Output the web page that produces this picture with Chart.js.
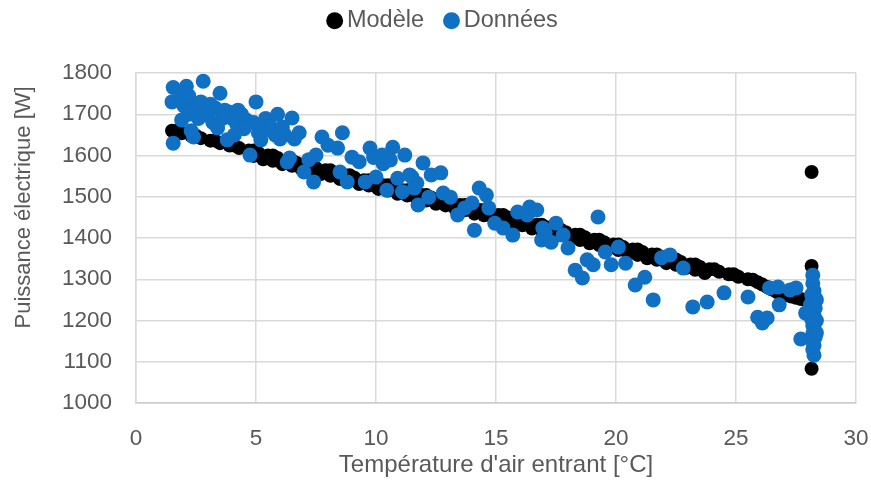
<!DOCTYPE html>
<html>
<head>
<meta charset="utf-8">
<script src="https://cdn.jsdelivr.net/npm/chart.js@4.4.0/dist/chart.umd.min.js"></script>
<style>
  body { margin: 0; background: #fff; }
</style>
</head>
<body>
<canvas id="chart" width="871" height="480"></canvas>
<script>
// Modèle (black band)
const modelX = [1.5, 1.9, 2.3, 2.7, 3.1, 3.5, 3.9, 4.3, 4.7, 5.1, 5.5, 5.9, 6.3, 6.7, 7.1, 7.5, 7.9, 8.3, 8.7, 9.1,
  9.5, 9.9, 10.3, 10.7, 11.1, 11.5, 11.9, 12.3, 12.7, 13.1, 13.5, 13.9, 14.3, 14.7, 15.1, 15.5, 15.9, 16.3, 16.7, 17.1,
  17.5, 17.9, 18.3, 18.7, 19.1, 19.5, 19.9, 20.3, 20.7, 21.1, 21.5, 21.9, 22.3, 22.7, 23.1, 23.5, 23.9, 24.3, 24.7, 25.1,
  25.5, 25.9, 26.3, 26.7, 27.1, 27.5, 27.9, 28.2,
  1.7, 2.5, 3.3, 4.1, 4.9, 5.7, 6.5, 7.3, 8.1, 8.9, 9.7, 10.5, 11.3, 12.1, 12.9, 13.7, 14.5, 15.3, 16.1, 16.9,
  17.7, 18.5, 19.3, 20.1, 20.9, 21.7, 22.5, 23.3, 24.1, 24.9, 25.7,
  5.3, 6.1, 6.9, 7.7, 8.5, 9.3, 10.1, 10.9, 11.7, 12.5, 13.3, 14.1, 14.9, 15.7, 16.5, 17.3, 18.1, 18.9, 19.7, 20.5,
  21.3, 22.1, 22.9, 23.7,
  4.9, 5.7, 6.5, 7.3, 8.1, 8.9, 9.7, 10.5, 11.3, 12.1, 12.9, 13.7, 14.5, 15.3, 16.1, 16.9, 17.7, 18.5, 19.3, 20.1,
  20.9, 21.7, 22.5, 23.3,
  26.1, 26.5, 26.9, 27.3, 27.7, 28.05, 28.3,
  28.15, 28.15, 28.15];
const modelY = [1660, 1654, 1648, 1642, 1636, 1630, 1624, 1618, 1612, 1606, 1600, 1594, 1588, 1582, 1576, 1570, 1564, 1558, 1552, 1546,
  1540, 1534, 1528, 1522, 1516, 1510, 1504, 1498, 1492, 1486, 1480, 1474, 1468, 1462, 1456, 1450, 1444, 1438, 1432, 1426,
  1420, 1414, 1408, 1402, 1396, 1390, 1384, 1378, 1372, 1366, 1360, 1354, 1348, 1342, 1336, 1330, 1324, 1318, 1312, 1306,
  1300, 1293, 1281, 1269, 1261, 1255, 1250, 1246,
  1660, 1648, 1636, 1624, 1612, 1600, 1588, 1576, 1564, 1552, 1540, 1528, 1516, 1504, 1492, 1480, 1468, 1456, 1444, 1432,
  1420, 1408, 1396, 1384, 1372, 1360, 1348, 1336, 1324, 1312, 1299,
  1591, 1579, 1567, 1555, 1543, 1531, 1519, 1507, 1495, 1483, 1471, 1459, 1447, 1435, 1423, 1411, 1399, 1387, 1375, 1363,
  1351, 1339, 1327, 1315,
  1599, 1587, 1575, 1563, 1551, 1539, 1527, 1515, 1503, 1491, 1479, 1467, 1455, 1443, 1431, 1419, 1407, 1395, 1383, 1371,
  1359, 1347, 1335, 1323,
  1287, 1275, 1265, 1258, 1252, 1248, 1244,
  1560, 1332, 1083];

// Données (blue points)
const dataX = [1.55, 2.1, 2.8, 1.5, 1.9, 2.4, 3.5, 1.9, 1.55, 2.4, 3.1, 3.4, 3.8, 3.9, 4.25, 5.0, 4.6, 4.75, 5.2, 5.4,
  5.9, 6.1, 6.3, 2.8, 6.5, 6.8, 6.4, 7.0, 7.4, 7.5, 7.75, 8.6, 8.4, 8.5, 8.8, 9.0, 9.55, 9.75, 10.0, 10.25,
  10.7, 10.6, 10.45, 10.9, 11.2, 11.1, 11.7, 11.96, 12.3, 12.7, 11.5, 11.6, 11.75, 12.2, 12.8, 13.1, 13.4, 13.7, 14.0, 14.3,
  14.6, 14.7, 14.1, 14.95, 15.3, 15.7, 15.9, 16.3, 16.4, 16.7, 16.95, 16.9, 17.05, 17.5, 17.3, 17.8, 18.0, 19.25, 18.3, 18.6,
  18.8, 19.05, 19.55, 20.1, 19.8, 20.4, 20.8, 21.2, 21.55, 21.9, 22.25, 22.8, 23.2, 23.8, 24.5, 25.5, 25.9, 26.1, 26.3, 26.4,
  26.75, 26.8, 27.25, 27.5, 27.7, 27.9,
  2.0, 2.2, 2.5, 2.7, 3.0, 3.3, 3.6, 3.7, 4.0, 4.2, 4.4, 4.5, 4.9, 5.3, 5.6, 5.8, 6.0, 6.2, 6.6, 2.2,
  2.6, 3.2, 4.1, 5.1, 2.3, 7.2, 8.0, 9.3, 9.9, 10.3, 11.4,
  28.2, 28.2, 28.25, 28.15, 28.3, 28.2, 28.1, 28.3, 28.2, 28.25, 28.15, 28.3, 28.2, 28.25, 28.2, 28.3, 28.2, 28.25, 28.2, 28.25,
  28.05, 28.35, 28.35, 28.35];
const dataY = [1765, 1768, 1780, 1730, 1742, 1727, 1751, 1686, 1630, 1645, 1724, 1667, 1638, 1705, 1710, 1730, 1686, 1601, 1638, 1690,
  1700, 1669, 1584, 1698, 1691, 1655, 1594, 1560, 1536, 1601, 1645, 1655, 1618, 1560, 1536, 1596, 1536, 1618, 1548, 1601,
  1620, 1589, 1516, 1545, 1601, 1512, 1533, 1582, 1553, 1558, 1548, 1521, 1480, 1499, 1509, 1499, 1456, 1473, 1485, 1521,
  1504, 1473, 1419, 1436, 1424, 1407, 1463, 1456, 1475, 1468, 1424, 1395, 1412, 1436, 1390, 1407, 1376, 1451, 1322, 1303,
  1347, 1335, 1366, 1378, 1335, 1339, 1286, 1305, 1250, 1352, 1359, 1327, 1233, 1245, 1267, 1257, 1208, 1194, 1206, 1279,
  1281, 1238, 1274, 1279, 1155, 1218,
  1720, 1745, 1710, 1730, 1700, 1715, 1690, 1710, 1690, 1675, 1700, 1665, 1680, 1660, 1670, 1650, 1640, 1650, 1640, 1700,
  1690, 1680, 1650, 1655, 1660, 1590, 1625, 1585, 1595, 1580, 1553,
  1310, 1290, 1272, 1262, 1255, 1245, 1238, 1230, 1222, 1212, 1204, 1196, 1188, 1178, 1168, 1160, 1150, 1140, 1130, 1116,
  1225, 1250, 1200, 1170];

const xTicks = [0, 5, 10, 15, 20, 25, 30];
const yTicks = [1000, 1100, 1200, 1300, 1400, 1500, 1600, 1700, 1800];
const seriesNames = ['Modèle', 'Données'];
const xTitle = "Température d'air entrant [°C]";
// leading spaces lift the rotated title a bit, as in the original
const yTitle = '          Puissance électrique [W]';

const toPoints = (xs, ys) => xs.map((x, i) => ({ x: x, y: ys[i] }));

const textColor = '#595959';
const family = "'Liberation Sans', Arial, sans-serif";
const tickFont = { family: family, size: 22.5 };
const gridColor = '#d9d9d9';

// room under the legend + nudge it where the original has it
const legendSpace = {
    id: 'legendSpace',
    beforeInit(chart) {
        const fit = chart.legend.fit;
        chart.legend.fit = function () {
            fit.call(this);
            this.height += 12.5;
        };
    },
    afterLayout(chart) {
        chart.legend.top -= 18;
        chart.legend.left += 18;
        chart.legend.right += 18;
    }
};

new Chart(document.getElementById('chart'), {
    type: 'scatter',
    data: {
        datasets: [{
            label: seriesNames[1],
            data: toPoints(dataX, dataY),
            backgroundColor: '#1070c4',
            borderWidth: 0,
            pointRadius: 7.5
        }, {
            label: seriesNames[0],
            data: toPoints(modelX, modelY),
            backgroundColor: '#000000',
            borderWidth: 0,
            pointRadius: 7
        }]
    },
    options: {
        responsive: false,
        animation: false,
        devicePixelRatio: 1,
        layout: { padding: { left: 0, right: 15, top: 0, bottom: 0 } },
        plugins: {
            tooltip: { enabled: false },
            legend: {
                position: 'top',
                reverse: true,
                labels: {
                    usePointStyle: true,
                    pointStyle: 'circle',
                    boxHeight: 12,
                    boxWidth: 1,
                    padding: 27,
                    color: textColor,
                    font: { family: family, size: 23.5 }
                }
            }
        },
        scales: {
            x: {
                type: 'linear',
                min: xTicks[0],
                max: xTicks[xTicks.length - 1],
                afterBuildTicks: s => { s.ticks = xTicks.map(v => ({ value: v })); },
                afterFit: s => { s.height = 77; s.paddingLeft = 0; s.paddingRight = 0; },
                grid: { color: gridColor, lineWidth: 1.5, drawTicks: false },
                border: { color: '#cccccc', width: 1.5 },
                ticks: { color: textColor, font: tickFont, padding: 22, maxRotation: 0, callback: v => String(v) },
                title: { display: true, text: xTitle, color: textColor, font: { family: family, size: 24 }, padding: { top: 0, bottom: 0 } }
            },
            y: {
                type: 'linear',
                min: yTicks[0],
                max: yTicks[yTicks.length - 1],
                afterBuildTicks: s => { s.ticks = yTicks.map(v => ({ value: v })); },
                afterFit: s => { s.width = 136; },
                grid: { color: gridColor, lineWidth: 1.5, drawTicks: false },
                border: { color: gridColor, width: 1.5 },
                ticks: { color: textColor, font: tickFont, padding: 24, callback: v => String(v) },
                title: { display: true, text: yTitle, color: textColor, font: { family: family, size: 22 }, padding: { top: 11, bottom: 0 } }
            }
        }
    },
    plugins: [legendSpace]
});
</script>
</body>
</html>
